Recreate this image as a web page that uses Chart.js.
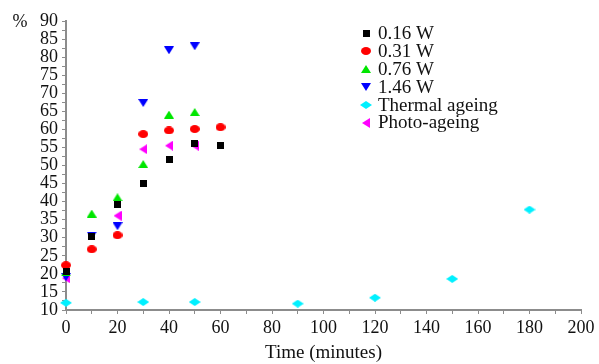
<!DOCTYPE html>
<html>
<head>
<meta charset="utf-8">
<script src="https://cdn.jsdelivr.net/npm/chart.js@4/dist/chart.umd.min.js"></script>
<style>
  body { margin: 0; background: #fff; }
  #wrap { width: 599px; height: 364px; }
</style>
</head>
<body>
<div id="wrap"><canvas id="ageChart" width="599" height="364"></canvas></div>
<script>
// data
const seriesNames = ['0.16 W', '0.31 W', '0.76 W', '1.46 W', 'Thermal ageing', 'Photo-ageing'];

const timeW016 = [0, 10, 20, 30, 40, 50, 60];
const valW016 = [20.6, 30.3, 39.1, 44.9, 51.6, 56.2, 55.5];

const timeW031 = [0, 10, 20, 30, 40, 50, 60];
const valW031 = [22.4, 26.8, 30.7, 58.7, 59.7, 60.1, 60.6];

const timeW076 = [0, 10, 20, 30, 40, 50];
const valW076 = [20.4, 36.7, 41.2, 50.4, 64.1, 64.8];

const timeW146 = [0, 10, 20, 30, 40, 50];
const valW146 = [19.1, 30.6, 33.2, 67.3, 81.9, 83.0];

const timeThermal = [0, 30, 50, 90, 120, 150, 180];
const valThermal = [12.0, 12.2, 12.2, 11.75, 13.4, 18.6, 37.8];

const timePhoto = [0, 20, 30, 40, 50];
const valPhoto = [18.8, 36.1, 54.5, 55.5, 55.5];

const xTicks = [0, 20, 40, 60, 80, 100, 120, 140, 160, 180, 200];
const yTicks = [10, 15, 20, 25, 30, 35, 40, 45, 50, 55, 60, 65, 70, 75, 80, 85, 90];

const serif = "'Liberation Serif', 'Times New Roman', serif";
const axisGray = '#8c8c8c';

// little marker pictures, used for the points and the legend
function makeMarker(w, h, color, shape) {
    const c = document.createElement('canvas');
    c.width = w;
    c.height = h;
    const g = c.getContext('2d');
    g.fillStyle = color;
    g.beginPath();
    if (shape === 'rect') {
        g.rect(0, 0, w, h);
    } else if (shape === 'ellipse') {
        g.ellipse(w / 2, h / 2, w / 2, h / 2, 0, 0, Math.PI * 2);
    } else if (shape === 'up') {
        g.moveTo(w / 2, 0); g.lineTo(w, h); g.lineTo(0, h);
    } else if (shape === 'down') {
        g.moveTo(0, 0); g.lineTo(w, 0); g.lineTo(w / 2, h);
    } else if (shape === 'left') {
        g.moveTo(0, h / 2); g.lineTo(w, 0); g.lineTo(w, h);
    } else if (shape === 'diamond') {
        g.moveTo(w / 2, 0); g.lineTo(w, h / 2); g.lineTo(w / 2, h); g.lineTo(0, h / 2);
    }
    g.closePath();
    g.fill();
    return c;
}

const markers = [
    makeMarker(7, 7, '#000000', 'rect'),
    makeMarker(10, 8, '#ff0000', 'ellipse'),
    makeMarker(10, 8, '#00e600', 'up'),
    makeMarker(10, 8, '#0000ff', 'down'),
    makeMarker(12, 8, '#00f0ff', 'diamond'),
    makeMarker(8, 10, '#ff00ff', 'left')
];

function pairs(xs, ys) {
    return xs.map((x, i) => ({ x: x, y: ys[i] }));
}

const allData = [
    pairs(timeW016, valW016),
    pairs(timeW031, valW031),
    pairs(timeW076, valW076),
    pairs(timeW146, valW146),
    pairs(timeThermal, valThermal),
    pairs(timePhoto, valPhoto)
];

// legend + "%" label drawn in the plot
const extras = {
    id: 'extras',
    afterDraw(chart) {
        const ctx = chart.ctx;
        ctx.save();
        ctx.font = '19px ' + serif;
        ctx.fillStyle = '#111';
        ctx.textBaseline = 'middle';
        ctx.textAlign = 'left';
        seriesNames.forEach((name, i) => {
            const y = 33 + i * 17.9;
            const m = markers[i];
            ctx.drawImage(m, Math.round(366 - m.width / 2), Math.round(y - m.height / 2));
            ctx.fillText(name, 378, y + 1);
        });
        ctx.font = '18px ' + serif;
        ctx.textAlign = 'center';
        ctx.fillText('%', 20, chart.chartArea.top + 1);
        ctx.restore();
    }
};

new Chart(document.getElementById('ageChart'), {
    type: 'scatter',
    data: {
        datasets: seriesNames.map((name, i) => ({
            label: name,
            data: allData[i],
            pointStyle: markers[i],
            pointRadius: 5,
            showLine: false,
            clip: false
        }))
    },
    options: {
        responsive: false,
        animation: false,
        events: [],
        layout: { padding: { top: 21, right: 18, left: 0, bottom: 0 } },
        plugins: {
            legend: { display: false },
            tooltip: { enabled: false }
        },
        scales: {
            x: {
                type: 'linear',
                min: 0,
                max: 200,
                afterFit: (s) => { s.height = 54; },
                afterBuildTicks: (s) => {
                    const t = [];
                    for (let v = 0; v <= 200; v += 10) t.push({ value: v });
                    s.ticks = t;
                },
                ticks: {
                    autoSkip: false,
                    maxRotation: 0,
                    padding: 3,
                    color: '#111',
                    font: { family: serif, size: 18 },
                    callback: (v) => xTicks.includes(v) ? String(v) : ''
                },
                grid: { drawOnChartArea: false, tickLength: 4, color: axisGray, tickWidth: 1 },
                border: { color: axisGray, width: 2 },
                title: {
                    display: true,
                    text: 'Time (minutes)',
                    color: '#111',
                    font: { family: serif, size: 19 },
                    padding: { top: 0, bottom: 0 }
                }
            },
            y: {
                min: 10,
                max: 90,
                afterFit: (s) => { s.width = 66; },
                afterBuildTicks: (s) => {
                    const t = [];
                    for (let v = 10; v <= 90; v += 2.5) t.push({ value: v });
                    s.ticks = t;
                },
                ticks: {
                    autoSkip: false,
                    padding: 4,
                    color: '#111',
                    font: { family: serif, size: 18 },
                    callback: (v) => yTicks.includes(v) ? String(v) : ''
                },
                grid: { drawOnChartArea: false, tickLength: 4, color: axisGray, tickWidth: 1 },
                border: { color: axisGray, width: 2 }
            }
        }
    },
    plugins: [extras]
});
</script>
</body>
</html>
